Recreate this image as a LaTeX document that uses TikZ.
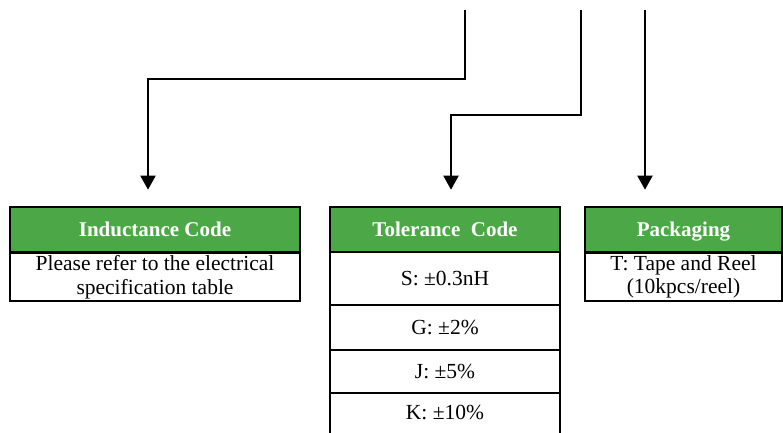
\documentclass[tikz,border=0pt]{standalone}
\usepackage{fontspec}
\setmainfont{Liberation Serif}
\usetikzlibrary{arrows.meta}
\definecolor{codegreen}{RGB}{76,168,70}
\tikzset{
  headcell/.style={draw,line width=2.6pt,fill=codegreen,text=white,inner sep=0pt,text height=15pt,text depth=1pt,font=\fontsize{21}{24}\selectfont\bfseries},
  bodycell/.style={draw,line width=2.6pt,fill=white,inner sep=0pt,align=center,font=\fontsize{21.5}{23.5}\selectfont},
  pin/.style={line width=2pt,-{Triangle[width=15pt,length=14pt]},shorten >=16pt}
}
\begin{document}
\begin{tikzpicture}[x=1pt,y=-1pt]
\clip (0,0) rectangle (783,432);
% Inductance code
\node[headcell,minimum width=290pt,minimum height=45pt] (indhead) at (155,229.5) {Inductance Code};
\node[bodycell,minimum width=290pt,minimum height=48pt] (indbody) at (155,277) {Please refer to the electrical\\specification table};
% Tolerance code
\node[headcell,minimum width=230pt,minimum height=45pt] (tolhead) at (445,229.5) {Tolerance~ Code};
\node[bodycell,minimum width=230pt,minimum height=53pt] (tolS) at (445,278.5) {S: ±0.3nH};
\node[bodycell,minimum width=230pt,minimum height=45pt] (tolG) at (445,327.5) {G: ±2\%};
\node[bodycell,minimum width=230pt,minimum height=43pt] (tolJ) at (445,371.5) {J: ±5\%};
\node[bodycell,minimum width=230pt,minimum height=60pt,text depth=22pt] (tolK) at (445,423) {K: ±10\%};
% Packaging
\node[headcell,minimum width=197pt,minimum height=45pt] (pakhead) at (683.5,229.5) {Packaging};
\node[bodycell,minimum width=197pt,minimum height=48pt] (pakbody) at (683.5,277) {T: Tape and Reel\\(10kpcs/reel)};
% leads from the part number
\coordinate (lead1) at (465,10);
\coordinate (lead2) at (581,10);
\coordinate (lead3) at (645,10);
\coordinate (bend1) at (148,79);
\coordinate (bend2) at (451,115);
\draw[pin] (lead1) |- (bend1) -- (bend1 |- indhead.north);
\draw[pin] (lead2) |- (bend2) -- (bend2 |- tolhead.north);
\draw[pin] (lead3) -- (lead3 |- pakhead.north);
\end{tikzpicture}
\end{document}
